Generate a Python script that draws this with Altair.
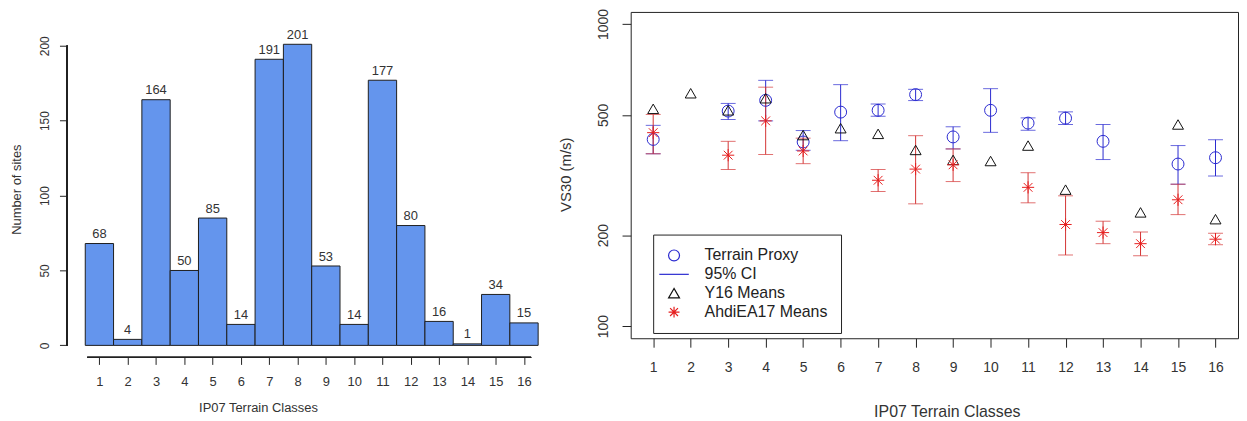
import altair as alt
import pandas as pd

FONT = "Liberation Sans"
TXT = "#333333"

# ---------------- data ----------------
classes = list(range(1, 17))
site_counts = [68, 4, 164, 50, 85, 14, 191, 201, 53, 14, 177, 80, 16, 1, 34, 15]

terrain_proxy = [415, None, 515, 559, 407, 511, 518, 584, 423, 518, 470, 488, 409, None, 344, 361]
proxy_ci_lo = [372, None, 483, 478, 382, 411, 495, 558, 386, 438, 445, 465, 356, None, 295, 314]
proxy_ci_hi = [462, None, 546, 651, 444, 630, 544, 608, 457, 611, 489, 512, 465, None, 396, 414]

y16_means = [524, 590, 518, 568, 429, 452, 433, 383, 355, 352, 396, 283, None, 238, 465, 226]

ahdi_means = [437, None, 368, 478, 380, None, 304, 331, 342, None, 288, 217, 204, 187.5, 262, 194]
ahdi_ci_lo = [372, None, 330, 370, 345, None, 279, 254, 301, None, 256, 172, 187.5, 171, 234, 186]
ahdi_ci_hi = [502, None, 409, 618, 419, None, 330, 427, 386, None, 322, 270, 222.5, 205, 295, 203]

hist_y_ticks = [0, 50, 100, 150, 200]
vs_ticks = [100, 200, 500, 1000]
series_names = ["Terrain Proxy", "95% CI", "Y16 Means", "AhdiEA17 Means"]

BLUE = "#2a2ad0"
RED_PT = "#e61e1e"
RED_LN = "#d43434"
series_colors = [BLUE, BLUE, "#111111", RED_PT]
ASTERISK = "M-1,0L1,0M0,-1L0,1M-0.72,-0.72L0.72,0.72M-0.72,0.72L0.72,-0.72"
series_shapes = ["circle", "M-2.7,0L2.7,0", "triangle-up", ASTERISK]

# layout (pixels of plot areas)
LEFT_W, LEFT_H = 492.1, 347.6
RIGHT_W, RIGHT_H = 611, 328.3
RIGHT_OFFSET_X = 566.3  # right plot origin relative to left plot origin

# ---------------- left: histogram ----------------
hist_df = pd.DataFrame({"cls": classes, "n": site_counts})
hx = alt.Scale(domain=[-0.14, 17.14], nice=False, zero=False)
hy = alt.Scale(domain=[-8.04, 222.6], nice=False, zero=False)

x_axis_left = alt.Axis(
    values=classes, format="d", domain=False, grid=False, labelOverlap=False,
    tickSize=7, tickColor="#222", labelFontSize=13, labelFont=FONT, labelColor=TXT,
    labelBaseline="middle", labelPadding=17, labelFlush=False,
    title="IP07 Terrain Classes", titleFont=FONT, titleFontSize=13, titleFontWeight="normal",
    titleColor=TXT, titleX=192, titleY=50.4, titleBaseline="middle", titleAlign="center",
)
y_axis_left = alt.Axis(
    values=hist_y_ticks, domain=False, grid=False, labelOverlap=False,
    tickSize=7.7, tickColor="#222", labelFontSize=12, labelFont=FONT, labelColor=TXT,
    labelAngle=-90, labelAlign="center", labelBaseline="middle", labelPadding=15.4,
    title="Number of sites", titleFont=FONT, titleFontSize=13, titleFontWeight="normal",
    titleColor=TXT, titleAngle=-90, titleX=-50.7, titleY=178.3,
    titleBaseline="middle", titleAlign="center",
)

base_h = alt.Chart(hist_df)
bars = base_h.transform_calculate(
    x0="datum.cls - 0.5", x1="datum.cls + 0.5"
).mark_bar(fill="#6495ED", stroke="#1e1e1e", strokeWidth=1).encode(
    x=alt.X("x0:Q", scale=hx, axis=x_axis_left),
    x2="x1:Q",
    y=alt.Y("n:Q", scale=hy, axis=y_axis_left),
    y2=alt.Y2Datum(0),
)
bar_labels = base_h.mark_text(
    baseline="alphabetic", dy=-5.5, fontSize=13, font=FONT, color=TXT
).encode(
    x=alt.X("cls:Q", scale=hx, axis=x_axis_left),
    y=alt.Y("n:Q", scale=hy, axis=y_axis_left),
    text="n:Q",
)

yaxis_line = base_h.mark_rule(color="#222", strokeWidth=1).encode(
    x=alt.XDatum(hx.domain[0], scale=hx, axis=x_axis_left),
    y=alt.YDatum(hist_y_ticks[0], scale=hy, axis=y_axis_left),
    y2=alt.Y2Datum(hist_y_ticks[-1]),
)
xaxis_line = base_h.mark_rule(color="#222", strokeWidth=1).encode(
    x=alt.XDatum(classes[0] - 0.43, scale=hx, axis=x_axis_left),
    x2=alt.X2Datum(classes[-1] + 0.25),
    y=alt.YDatum(hy.domain[0], scale=hy, axis=y_axis_left),
)

left = alt.layer(bars, bar_labels, yaxis_line, xaxis_line).properties(width=LEFT_W, height=LEFT_H)

# ---------------- right: VS30 ----------------
rx = alt.Scale(domain=[0.4, 16.6], nice=False, zero=False)
ry = alt.Scale(type="log", domain=[91.2, 1096.5], nice=False)

x_axis_right = alt.Axis(
    values=classes, format="d", domain=False, grid=False, labelOverlap=False,
    tickSize=9, tickColor="#222", labelFontSize=14, labelFont=FONT, labelColor=TXT,
    labelBaseline="middle", labelPadding=20.4, labelFlush=False,
    title="IP07 Terrain Classes", titleFont=FONT, titleFontSize=16, titleFontWeight="normal",
    titleColor=TXT, titleX=318, titleY=73.4, titleBaseline="middle", titleAlign="center",
)
y_axis_right = alt.Axis(
    values=vs_ticks, format="d", domain=False, grid=False, labelOverlap=False,
    tickSize=8.7, tickColor="#222", labelFontSize=14, labelFont=FONT, labelColor=TXT,
    labelAngle=-90, labelAlign="center", labelBaseline="middle", labelPadding=18.6,
    title="VS30 (m/s)", titleFont=FONT, titleFontSize=15, titleFontWeight="normal",
    titleColor=TXT, titleAngle=-90, titleX=-66, titleY=163.3,
    titleBaseline="middle", titleAlign="center",
)

ci_df = pd.DataFrame({
    "cls": classes,
    "plo": proxy_ci_lo, "phi": proxy_ci_hi,
    "alo": ahdi_ci_lo, "ahi": ahdi_ci_hi,
})
pts_rows = []
for name, vals in [("Terrain Proxy", terrain_proxy), ("Y16 Means", y16_means),
                   ("AhdiEA17 Means", ahdi_means)]:
    for c, v in zip(classes, vals):
        if v is not None:
            pts_rows.append({"cls": c, "v": v, "series": name})
pts_df = pd.DataFrame(pts_rows)

legend = alt.Legend(
    title=None, orient="none", legendX=RIGHT_OFFSET_X + 23.3, legendY=224,
    direction="vertical",
    strokeColor="#222", fillColor="white", padding=13, rowPadding=3,
    labelOffset=22.7, symbolSize=121, symbolStrokeWidth=1.2,
    labelFontSize=16, labelFont=FONT, labelColor="#222",
)
cscale = alt.Scale(domain=series_names, range=series_colors)
sscale = alt.Scale(domain=series_names, range=series_shapes)


def ci_layers(lo, hi, color):
    d = alt.Chart(ci_df).transform_filter(f"isValid(datum.{lo})")
    rule = d.mark_rule(color=color, strokeWidth=1).encode(
        x=alt.X("cls:Q", scale=rx, axis=x_axis_right),
        y=alt.Y(f"{lo}:Q", scale=ry, axis=y_axis_right),
        y2=f"{hi}:Q",
    )
    cap_lo = d.mark_tick(orient="horizontal", size=15, thickness=1, color=color).encode(
        x=alt.X("cls:Q", scale=rx, axis=x_axis_right),
        y=alt.Y(f"{lo}:Q", scale=ry, axis=y_axis_right),
    )
    cap_hi = d.mark_tick(orient="horizontal", size=15, thickness=1, color=color).encode(
        x=alt.X("cls:Q", scale=rx, axis=x_axis_right),
        y=alt.Y(f"{hi}:Q", scale=ry, axis=y_axis_right),
    )
    return [rule, cap_lo, cap_hi]


def point_layer(name, size):
    return alt.Chart(pts_df).transform_filter(alt.datum.series == name).mark_point(
        filled=False, size=size, strokeWidth=1, opacity=1
    ).encode(
        x=alt.X("cls:Q", scale=rx, axis=x_axis_right),
        y=alt.Y("v:Q", scale=ry, axis=y_axis_right),
        color=alt.Color("series:N", scale=cscale, legend=legend),
        shape=alt.Shape("series:N", scale=sscale, legend=legend),
    )


right = alt.layer(
    *ci_layers("plo", "phi", BLUE),
    *ci_layers("alo", "ahi", RED_LN),
    point_layer("Terrain Proxy", 144),
    point_layer("Y16 Means", 121),
    point_layer("AhdiEA17 Means", 150),
).properties(
    width=RIGHT_W, height=RIGHT_H,
    view=alt.ViewBackground(stroke="#222", strokeWidth=1),
)

chart = alt.hconcat(left, right, spacing=0).properties(
    padding={"left": 2.5, "top": -1.3, "right": 0, "bottom": 0},
    background="white",
).configure_view(stroke="transparent", strokeWidth=0)

chart.save("out.html", embed_options={"renderer": "svg", "actions": False})
